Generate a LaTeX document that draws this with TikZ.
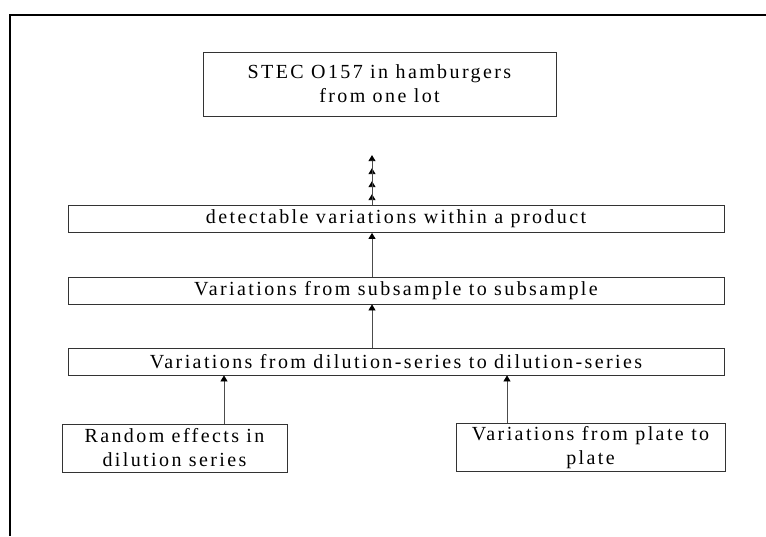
\documentclass[tikz,border=0pt]{standalone}
\usepackage{fontspec}
\setmainfont[LetterSpace=12]{Liberation Serif}
\usetikzlibrary{arrows.meta}

\tikzset{
  box/.style={draw=black!80, line width=0.8pt, inner sep=0pt, align=center,
    font=\fontsize{20}{24}\selectfont},
  wide/.style={box, minimum width=656pt, minimum height=27pt},
  small/.style={box, minimum height=48pt},
  arr/.style={draw=black!70, line width=0.8pt,
    -{Triangle[width=7pt,length=6pt,color=black]}}
}

\begin{document}
\begin{tikzpicture}[x=1pt, y=-1pt]
    % Frame
    \useasboundingbox (0,0) rectangle (766,536);
    \draw[line width=2pt] (766,15) -- (10,15) -- (10,536);
    % Boxes
    \node[box, minimum width=353pt, minimum height=64pt] (lot) at (379.5,84)
        {STEC O157 in hamburgers\\from one lot};
    \node[wide] (detect) at (396,219) {detectable variations within a product};
    \node[wide] (subs) at (396,290.5) {Variations from subsample to subsample};
    \node[wide] (dil) at (396,361.5) {Variations from dilution-series to dilution-series};
    \node[small, minimum width=225pt] (rand) at (174.5,448)
        {Random effects in\\dilution series};
    \node[small, minimum width=269pt] (plate) at (590.5,447.5)
        {Variations from plate to\\plate};
    % Arrows
    \draw[arr] ([xshift=49.5pt]rand.north) -- ([xshift=49.5pt]rand.north |- dil.south);
    \draw[arr] ([xshift=-83.5pt]plate.north) -- ([xshift=-83.5pt]plate.north |- dil.south);
    \draw[arr] ([xshift=-24pt]dil.north) -- ([xshift=-24pt]subs.south);
    \draw[arr] ([xshift=-24pt]subs.north) -- ([xshift=-24pt]detect.south);
    % Stack above the product box
    \foreach \h in {11,24,37,50}
    {
        \draw[arr] ([xshift=-24pt]detect.north) -- ++(0,-\h);
    }
\end{tikzpicture}
\end{document}
